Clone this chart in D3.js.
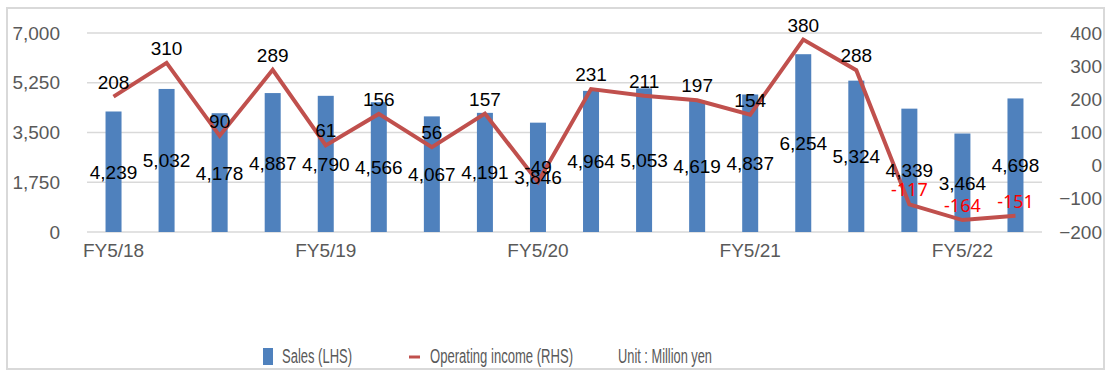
<!DOCTYPE html>
<html>
<head>
<meta charset="utf-8">
<script src="https://cdn.jsdelivr.net/npm/d3@7"></script>
<style>
  body { margin: 0; background: #fff; }
  text { font-family: "Liberation Sans", Arial, sans-serif; }
</style>
</head>
<body>
<svg id="chart" width="1114" height="373"></svg>
<script>
// quarters FY5/18 1Q .. FY5/22 2Q
var quarters = ['FY5/18 1Q', 'FY5/18 2Q', 'FY5/18 3Q', 'FY5/18 4Q',
  'FY5/19 1Q', 'FY5/19 2Q', 'FY5/19 3Q', 'FY5/19 4Q',
  'FY5/20 1Q', 'FY5/20 2Q', 'FY5/20 3Q', 'FY5/20 4Q',
  'FY5/21 1Q', 'FY5/21 2Q', 'FY5/21 3Q', 'FY5/21 4Q',
  'FY5/22 1Q', 'FY5/22 2Q']
var sales = [4239, 5032, 4178, 4887, 4790, 4566, 4067, 4191, 3846, 4964, 5053, 4619, 4837, 6254, 5324, 4339, 3464, 4698]
var opIncome = [208, 310, 90, 289, 61, 156, 56, 157, -49, 231, 211, 197, 154, 380, 288, -117, -164, -151]
var xTickLabels = ['FY5/18', 'FY5/19', 'FY5/20', 'FY5/21', 'FY5/22']
var leftTicks = [0, 1750, 3500, 5250, 7000]
var rightTicks = [-200, -100, 0, 100, 200, 300, 400]

var plot = {left: 87, right: 1042, top: 33, bottom: 232}

var svg = d3.select('#chart')

// outer frame
svg.append('rect')
  .attr('x', 7).attr('y', 8)
  .attr('width', 1097).attr('height', 361)
  .attr('fill', 'none')
  .attr('stroke', '#d9d9d9')
  .attr('stroke-width', 2)

var x = d3.scaleBand()
  .domain(quarters)
  .range([plot.left, plot.right])

var yL = d3.scaleLinear()
  .domain([0, 7000])
  .range([plot.bottom, plot.top])

var yR = d3.scaleLinear()
  .domain([-200, 400])
  .range([plot.bottom, plot.top])

var cx = function (d, i) { return x(quarters[i]) + x.bandwidth() / 2 }

// gridlines
svg.append('g')
  .selectAll('line')
  .data(leftTicks)
  .enter().append('line')
  .attr('x1', plot.left).attr('x2', plot.right)
  .attr('y1', function (d) { return yL(d) })
  .attr('y2', function (d) { return yL(d) })
  .attr('stroke', '#d9d9d9')
  .attr('stroke-width', 1.5)

// left axis
var gl = svg.append('g')
  .attr('transform', 'translate(' + plot.left + ',0)')
  .call(d3.axisLeft(yL).tickValues(leftTicks).tickSize(0).tickPadding(27).tickFormat(d3.format(',')))
gl.select('.domain').remove()
gl.selectAll('text').attr('fill', '#595959').style('font-size', '19px')

// right axis
var gr = svg.append('g')
  .attr('transform', 'translate(' + plot.right + ',0)')
  .call(d3.axisRight(yR).tickValues(rightTicks).tickSize(0))
gr.select('.domain').remove()
gr.selectAll('text')
  .attr('x', 60)
  .attr('text-anchor', 'end')
  .attr('fill', '#595959')
  .style('font-size', '19px')

// bottom axis
var gb = svg.append('g')
  .attr('transform', 'translate(0,' + plot.bottom + ')')
  .call(d3.axisBottom(x)
    .tickValues(quarters.filter(function (q, i) { return i % 4 === 0 }))
    .tickFormat(function (q) { return xTickLabels[quarters.indexOf(q) / 4] })
    .tickSize(0).tickPadding(12))
gb.select('.domain').remove()
gb.selectAll('text').attr('fill', '#595959').style('font-size', '19px')

// bars
var barW = 16
svg.append('g')
  .selectAll('rect')
  .data(sales)
  .enter().append('rect')
  .attr('x', function (d, i) { return cx(d, i) - barW / 2 })
  .attr('y', function (d) { return yL(d) })
  .attr('width', barW)
  .attr('height', function (d) { return yL(0) - yL(d) })
  .attr('fill', '#4f81bd')

// operating income line
var line = d3.line()
  .x(function (d, i) { return cx(d, i) })
  .y(function (d) { return yR(d) })

svg.append('path')
  .datum(opIncome)
  .attr('d', line)
  .attr('fill', 'none')
  .attr('stroke', '#c0504d')
  .attr('stroke-width', 4)

// sales labels (centre of bar)
svg.append('g')
  .selectAll('text')
  .data(sales)
  .enter().append('text')
  .attr('x', function (d, i) { return cx(d, i) })
  .attr('y', function (d) { return (yL(d) + yL(0)) / 2 + 7 })
  .attr('text-anchor', 'middle')
  .style('font-size', '19px')
  .attr('fill', '#000')
  .text(d3.format(','))

// income labels (above point), recent losses in red
var isRed = function (d, i) { return d < 0 && i > 8 }
svg.append('g')
  .selectAll('text')
  .data(opIncome)
  .enter().append('text')
  .attr('x', function (d, i) { return cx(d, i) })
  .attr('y', function (d) { return yR(d) - 8 })
  .attr('text-anchor', 'middle')
  .style('font-size', function (d, i) { return isRed(d, i) ? '18px' : '19px' })
  .style('font-family', function (d, i) { return isRed(d, i) ? '"Noto Sans", sans-serif' : null })
  .attr('fill', function (d, i) { return isRed(d, i) ? '#ff0000' : '#000' })
  .text(function (d) { return d })

// legend
var lg = svg.append('g')
lg.append('rect')
  .attr('x', 263).attr('y', 348).attr('width', 10).attr('height', 17)
  .attr('fill', '#4f81bd')
lg.append('text')
  .attr('x', 282).attr('y', 363)
  .attr('textLength', 70).attr('lengthAdjust', 'spacingAndGlyphs')
  .style('font-size', '20px').attr('fill', '#595959')
  .text('Sales (LHS)')
lg.append('line')
  .attr('x1', 409).attr('x2', 420).attr('y1', 357).attr('y2', 357)
  .attr('stroke', '#c0504d').attr('stroke-width', 3)
lg.append('text')
  .attr('x', 430).attr('y', 363)
  .attr('textLength', 143).attr('lengthAdjust', 'spacingAndGlyphs')
  .style('font-size', '20px').attr('fill', '#595959')
  .text('Operating income (RHS)')
lg.append('text')
  .attr('x', 618).attr('y', 363)
  .attr('textLength', 94).attr('lengthAdjust', 'spacingAndGlyphs')
  .style('font-size', '20px').attr('fill', '#595959')
  .text('Unit : Million yen')
</script>
</body>
</html>
